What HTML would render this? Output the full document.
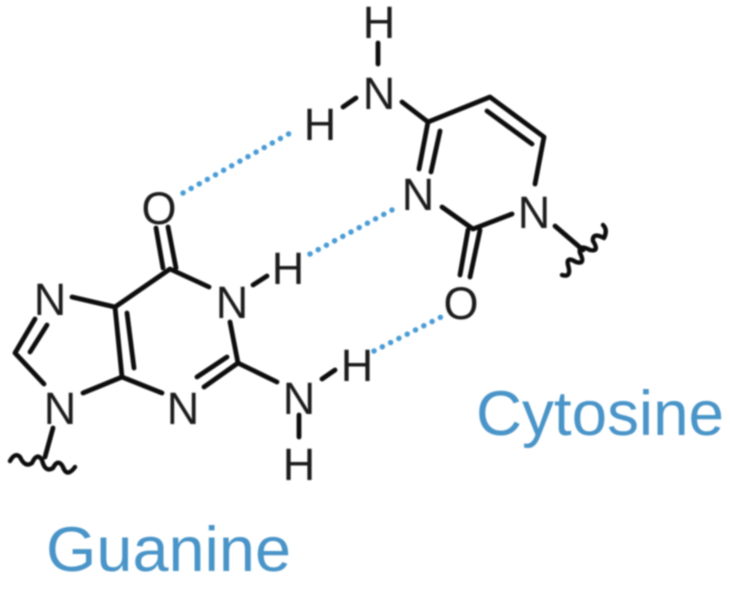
<!DOCTYPE html>
<html><head><meta charset="utf-8"><style>
html,body{margin:0;padding:0;background:#fff;width:730px;height:597px;overflow:hidden}
svg{display:block}
text{font-family:"Liberation Sans",sans-serif}
</style></head><body>
<svg width="730" height="597" viewBox="0 0 730 597" xmlns="http://www.w3.org/2000/svg">
<defs><filter id="b" x="-5%" y="-5%" width="110%" height="110%"><feGaussianBlur stdDeviation="0.7"/></filter></defs>
<rect width="730" height="597" fill="#fff"/>
<g filter="url(#b)">
<g fill="none" stroke="#0c0c0c" stroke-width="4.8" stroke-linecap="round" stroke-linejoin="round">
<path d="M156 228L163 268M168 227L176 268"/>
<path d="M209 287L170 269L115 307L122 377L162 393"/>
<path d="M127 313L134 368"/>
<path d="M253 285L267 276"/>
<path d="M230 322L238 363L204 387M227 357L197 377M238 363L277 382"/>
<path d="M322 379L335 370M299 415L299 437"/>
<path d="M115 307L72 297M35 319L15 353L44 384M47 325L30 352M83 393L122 377"/>
<path d="M53 428L45 457"/>
<path d="M10 461Q15 452 20 457Q25 468 32 463Q37 452 42 460Q45 473 53 468Q58 458 63 467Q67 478 75 467" stroke-width="4.4"/>
<path d="M378 43L378 64M343 107L356 98"/>
<path d="M402 102L428 122L490 97L544 137L535 184M487 111L532 144"/>
<path d="M428 122L419 169M440 131L431 172"/>
<path d="M512 214L473 229L442 207"/>
<path d="M468 230L460 275M480 230L470 277"/>
<path d="M555 226L583 250"/>
<path d="M562 275Q572 278 568 265Q566 256 576 262Q586 265 580 253Q578 244 590 250Q600 252 593 241Q592 232 604 238Q608 230 603 225" stroke-width="4.4"/>
</g>
<g fill="none" stroke="#4a9cd6" stroke-width="5.4" stroke-linecap="round" stroke-dasharray="0.1 9.2">
<path d="M183 193L292 132"/>
<path d="M310 254L392 210"/>
<path d="M374 351L445 315"/>
</g>
<g fill="#1a1a1a" font-size="45" text-anchor="middle">
<text x="159" y="224">O</text>
<text x="50" y="315">N</text>
<text x="60" y="424">N</text>
<text x="183" y="424">N</text>
<text x="232" y="318">N</text>
<text x="288" y="284">H</text>
<text x="299" y="414">N</text>
<text x="357" y="381">H</text>
<text x="299" y="480">H</text>
<text x="379" y="38">H</text>
<text x="379" y="109">N</text>
<text x="320" y="140">H</text>
<text x="418" y="210">N</text>
<text x="534" y="228">N</text>
<text x="461" y="319">O</text>
</g>
<g fill="#4a94c8" font-size="63">
<text x="476" y="435" textLength="248" lengthAdjust="spacingAndGlyphs">Cytosine</text>
<text x="46" y="571" textLength="245" lengthAdjust="spacingAndGlyphs">Guanine</text>
</g>
</g>
</svg>
</body></html>
